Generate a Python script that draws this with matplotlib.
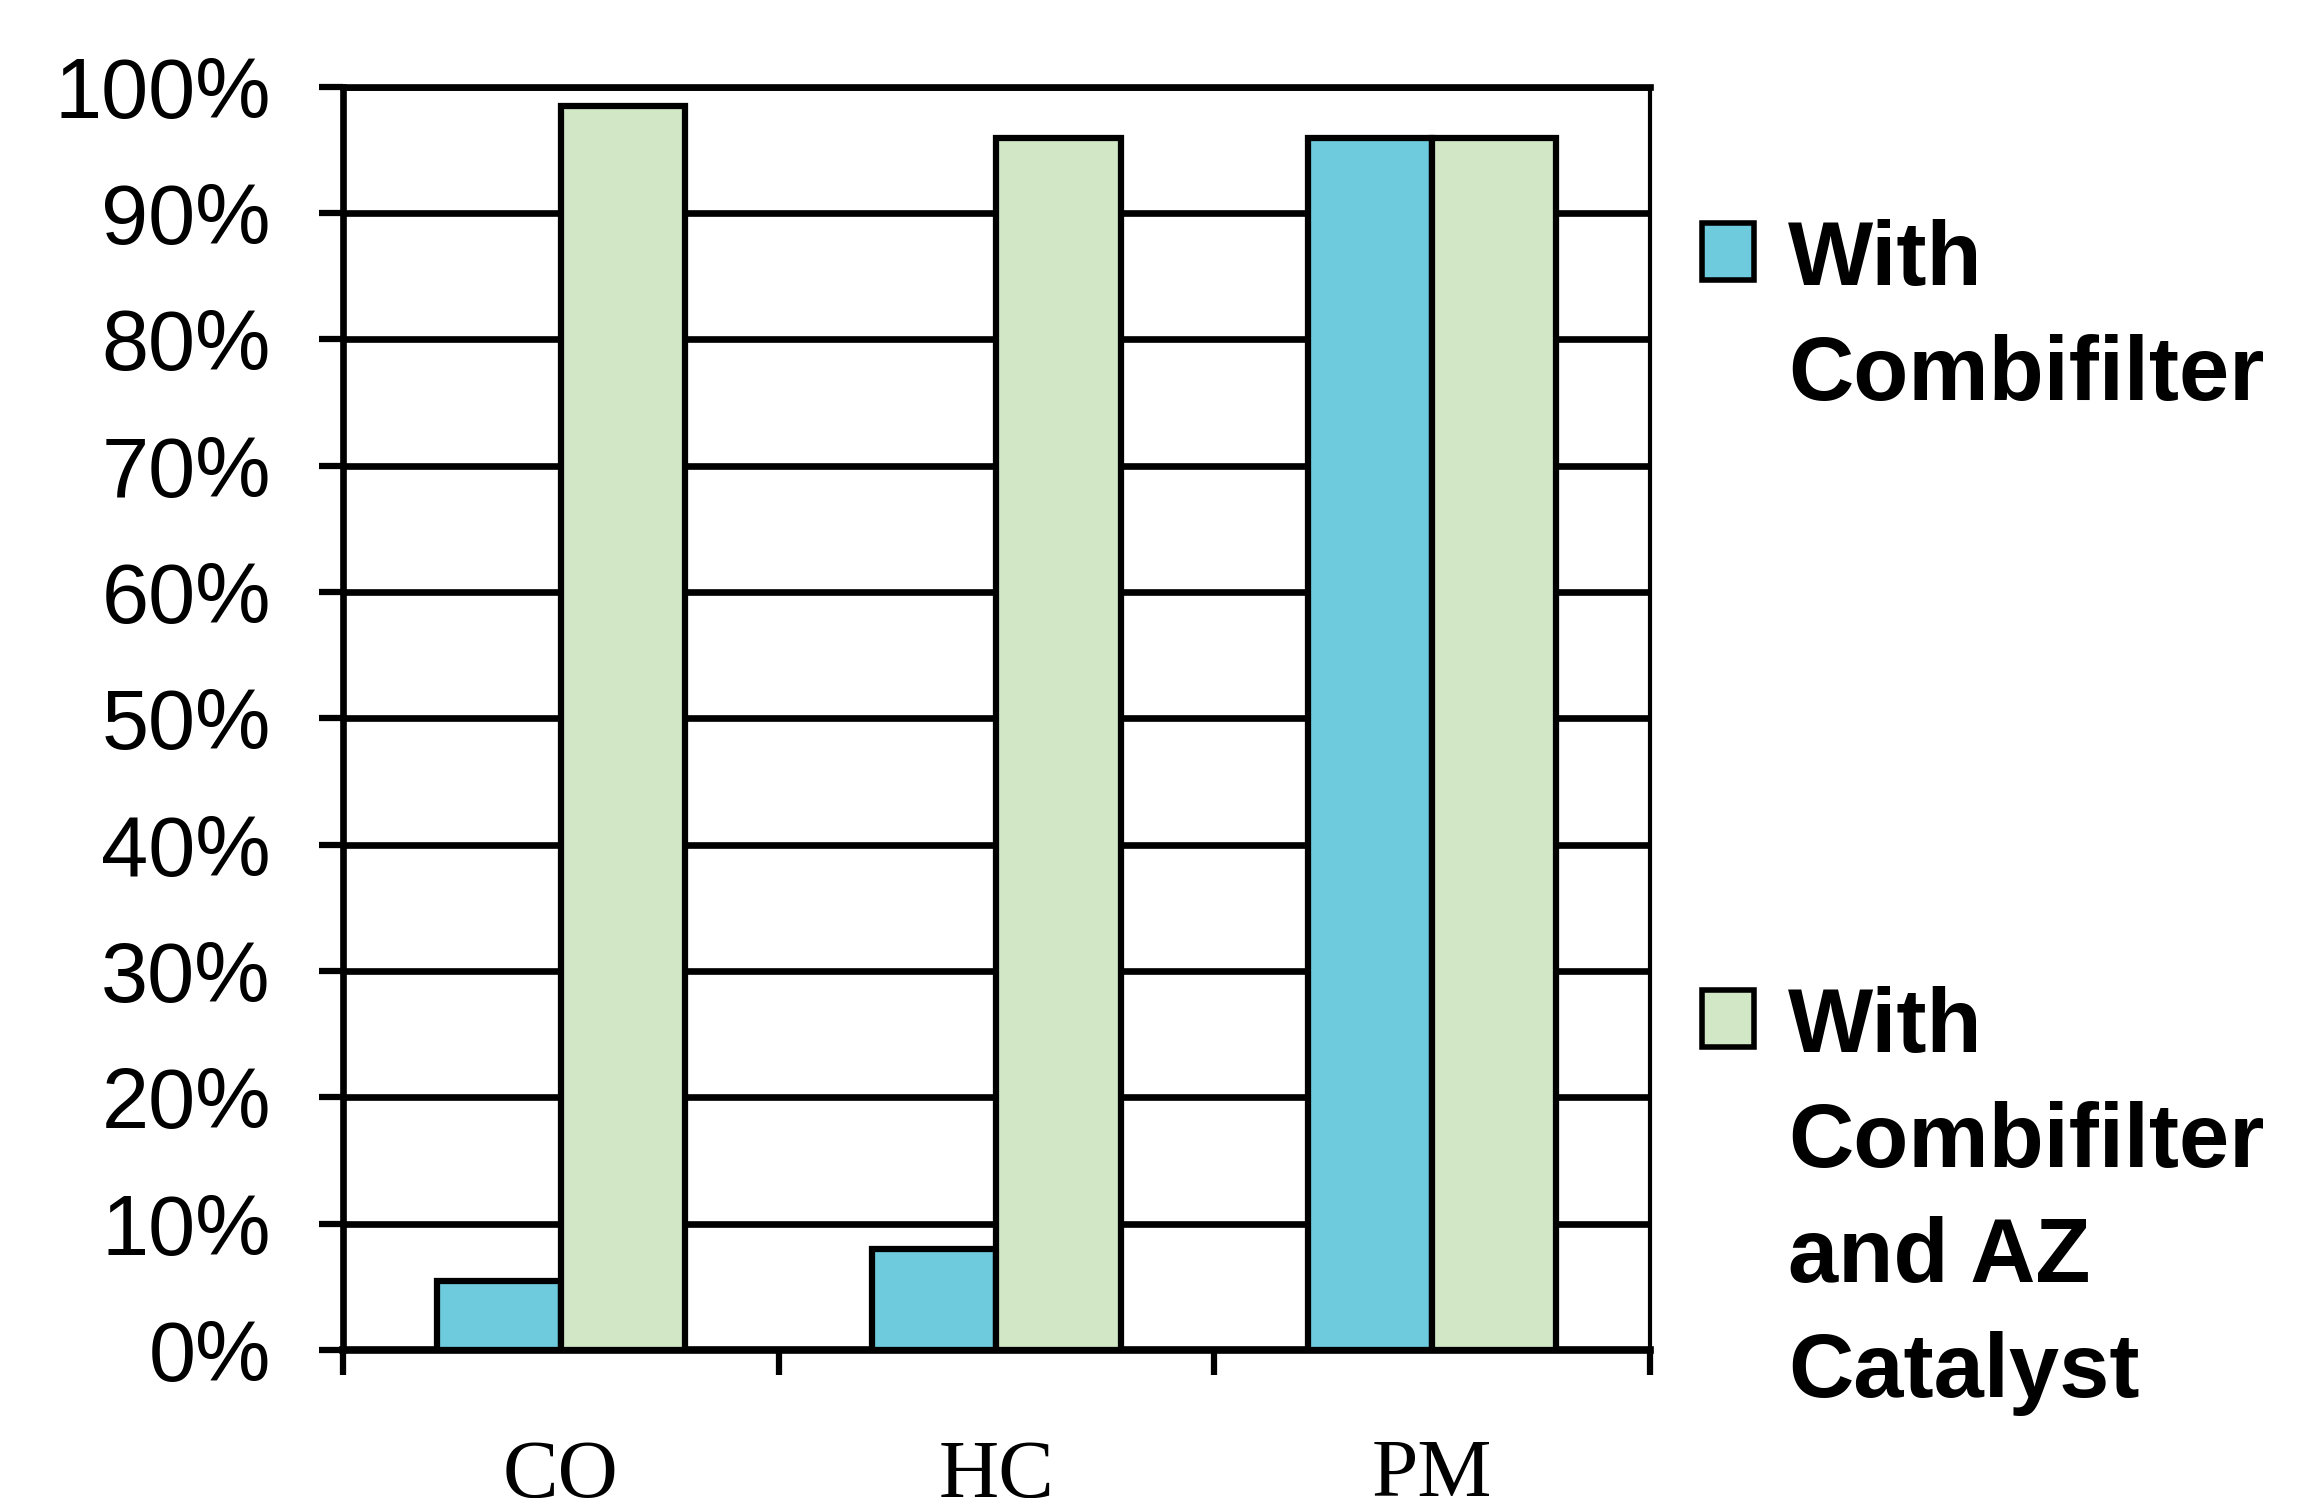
import matplotlib.pyplot as plt
import matplotlib.patches as mpatches
import numpy as np

# data
categories = ["CO", "HC", "PM"]
series_names = ["With\nCombifilter", "With\nCombifilter\nand AZ\nCatalyst"]
combifilter = [0.055, 0.08, 0.959]
combifilter_az = [0.985, 0.959, 0.959]
yticks = np.arange(0, 1.01, 0.1)
ytick_labels = [f"{int(round(v * 100))}%" for v in yticks]

colors = ["#6DCBDD", "#D1E7C5"]

W, H = 2320, 1498
fig = plt.figure(figsize=(W / 100, H / 100), dpi=100)
ax = fig.add_axes([343 / W, 1 - 1350 / H, (1650 - 343) / W, (1350 - 86.7) / H])

x = np.arange(len(categories))
bw = 0.285
for i, vals in enumerate([combifilter, combifilter_az]):
    ax.bar(x + (i - 0.5) * bw, vals, bw, color=colors[i], edgecolor="black",
           linewidth=4.5, zorder=3, label=series_names[i])

ax.set_xlim(-0.5, 2.5)
ax.set_ylim(0, 1)
ax.set_yticks(yticks)
ax.set_yticklabels(ytick_labels, fontsize=61, fontfamily="Liberation Sans")
ax.tick_params(axis="y", length=17, width=4.5, pad=35)
ax.yaxis.grid(True, color="black", linewidth=4.8)
ax.set_axisbelow(True)

ax.set_xticks(x)
ax.set_xticklabels(categories, fontsize=60, fontfamily="Liberation Serif")
ax.set_xticks(np.arange(-0.5, 2.6, 1), minor=True)
ax.tick_params(axis="x", which="major", length=0, pad=64)
ax.tick_params(axis="x", which="minor", length=18, width=4.5)

ax.spines["left"].set_linewidth(4.8)
ax.spines["bottom"].set_linewidth(5.5)
ax.spines["right"].set_linewidth(3)
ax.spines["top"].set_linewidth(4.8)

# legend, drawn by hand to match the spread-out layout
legend_tops = [223, 990]
text_baselines = [285, 1052]
line_step = 115
for i, name in enumerate(series_names):
    y0 = legend_tops[i]
    fig.add_artist(mpatches.Rectangle((1702 / W, 1 - (y0 + 57) / H), 52 / W, 57 / H,
                                      facecolor=colors[i], edgecolor="black",
                                      linewidth=4, transform=fig.transFigure))
    for j, line in enumerate(name.split("\n")):
        fig.text(1788 / W, 1 - (text_baselines[i] + j * line_step) / H, line,
                 fontsize=65, fontweight="bold", fontfamily="Liberation Sans",
                 va="baseline", ha="left")

fig.savefig("out.png", dpi=100)
